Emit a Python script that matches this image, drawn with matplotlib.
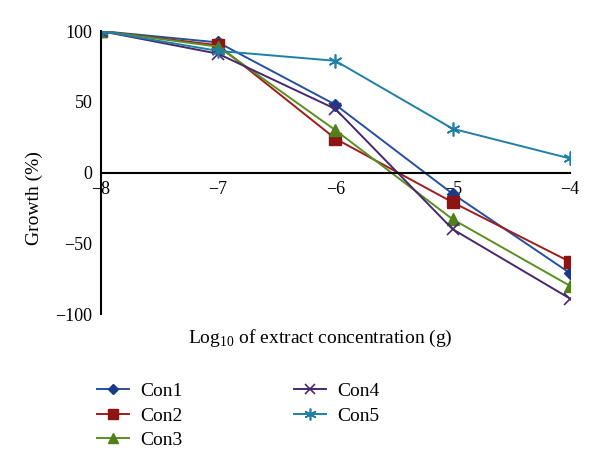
import matplotlib
matplotlib.use("Agg")
import matplotlib.pyplot as plt

plt.rcParams['font.family'] = ['Liberation Serif', 'DejaVu Serif']
plt.rcParams['mathtext.fontset'] = 'custom'
plt.rcParams['mathtext.rm'] = 'Liberation Serif'

x = [-8, -7, -6, -5, -4]
con1 = [100, 92, 48, -15, -71]
con2 = [100, 90, 24, -21, -63]
con3 = [100, 89, 30, -33, -80]
con4 = [100, 84, 45, -40, -89]
con5 = [100, 86, 79, 31, 10]
names = ['Con1', 'Con2', 'Con3', 'Con4', 'Con5']
xticks = [-8, -7, -6, -5, -4]
yticks = [-100, -50, 0, 50, 100]

fig = plt.figure(figsize=(6, 4.71), dpi=100)
ax = fig.add_axes([0.168, 0.333, 0.782, 0.601])

styles = [
    dict(color='#2450a0', marker='D', markersize=6, mfc='#1c3a8a', mec='#1c3a8a'),
    dict(color='#a01c1c', marker='s', markersize=8, mfc='#8e1414', mec='#8e1414'),
    dict(color='#5a8f22', marker='^', markersize=8, mfc='#4f8019', mec='#4f8019'),
    dict(color='#47286e', marker='x', markersize=9, mew=1.2),
    dict(color='#1f7fa6', marker=(6, 2, 0), markersize=10, mew=1.2),
]
series = [con1, con2, con3, con4, con5]
handles = []
for s, name, st in zip(series, names, styles):
    h, = ax.plot(x, s, lw=1.4, label=name, **st)
    handles.append(h)

ax.set_xlim(-8, -4)
ax.set_ylim(-100, 100)
ax.set_xticks(xticks)
ax.set_xticklabels(['\u2212%d' % abs(v) for v in xticks])
ax.set_yticks(yticks)
ax.set_yticklabels([('\u2212%d' % abs(v)) if v < 0 else str(v) for v in yticks])
ax.spines['top'].set_visible(False)
ax.spines['right'].set_visible(False)
ax.spines['bottom'].set_position(('data', 0))
ax.spines['bottom'].set_linewidth(1.5)
ax.spines['left'].set_linewidth(1.5)
ax.tick_params(axis='both', length=0, labelsize=13)
ax.tick_params(axis='x', pad=6)
ax.tick_params(axis='y', pad=6)

fig.text(0.534, 0.282, 'Log$_{10}$ of extract concentration (g)', ha='center', va='center', fontsize=14)
fig.text(0.058, 0.58, 'Growth (%)', ha='center', va='center', rotation=90, fontsize=14)

leg = fig.legend(handles=handles, loc='upper left', bbox_to_anchor=(0.133, 0.225), ncol=2,
                 frameon=False, fontsize=14, handlelength=1.65, columnspacing=5.7,
                 labelspacing=0.35, handletextpad=0.57, markerscale=0.85)

fig.savefig('out.png', dpi=100)
